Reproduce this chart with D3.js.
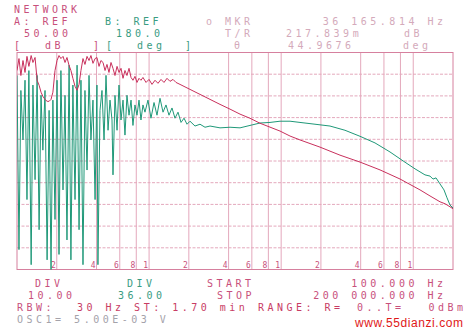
<!DOCTYPE html>
<html>
<head>
<meta charset="utf-8">
<script src="https://cdn.jsdelivr.net/npm/d3@7"></script>
<style>
  body { margin: 0; background: #fff; }
  svg { display: block; }
  .mono { font-family: "DejaVu Sans Mono", monospace; font-size: 10px; letter-spacing: 3.5px; }
</style>
</head>
<body>
<div id="chart"></div>
<script>
// Trace A: magnitude (dB)
const freqA = [100, 103.5, 107, 111, 115, 119, 123, 128, 132, 137, 142, 147, 152, 157, 163, 169, 175, 181, 187, 194,
  201, 208, 215, 223, 231, 239, 248, 256, 265, 275, 285, 295, 305, 316, 327, 339, 351, 363, 376, 390,
  403, 418, 432, 448, 464, 480, 497, 515, 533, 552, 572, 592, 613, 635, 657, 680, 705, 730, 755, 782,
  810, 839, 868, 899, 948, 999, 1052, 1109, 1168, 1231, 1297, 1367, 1440, 1518, 1599, 1715, 2041, 2430, 2893, 3444,
  4101, 4881, 5808, 6916, 8233, 9800, 11670, 13890, 19680, 27890, 39530, 56020, 79390, 112500, 133900, 159400, 174000, 189800, 200000];
const magA = [41.7, 47.2, 39.4, 46.3, 40.8, 48.2, 43.6, 48.6, 45.4, 47.7, 37.2, 34.9, 31.7, 29.8, 28.4, 27.5, 27.5, 28.4, 31.7, 41.7,
  46.3, 48.6, 47.2, 48.2, 45.4, 47.7, 44.0, 41.7, 38.1, 34.4, 32.6, 35.3, 41.7, 47.2, 44.5, 48.2, 46.3, 48.6, 45.0, 47.2,
  47.7, 43.6, 46.3, 45.4, 41.7, 44.5, 40.8, 45.4, 42.7, 39.4, 43.6, 40.8, 42.7, 38.1, 41.7, 39.4, 42.7, 38.5, 37.2, 39.0,
  36.2, 38.1, 37.2, 38.5, 36.2, 37.6, 35.3, 37.2, 35.8, 37.6, 36.2, 38.1, 36.7, 37.6, 36.2, 35.3, 33.0, 30.7, 28.4, 26.1,
  23.9, 21.6, 19.7, 17.4, 15.6, 13.8, 11.5, 9.7, 6.4, 2.7, -0.5, -4.1, -8.3, -13.3, -16.1, -18.8, -19.7, -21.1, -22.0];

// Trace B: phase (deg)
const freqB = [100, 103.5, 107, 111, 115, 119, 123, 128, 132, 137, 142, 147, 152, 157, 163, 169, 175, 181, 187, 194,
  201, 208, 215, 223, 231, 239, 248, 256, 265, 275, 285, 295, 305, 316, 327, 339, 351, 363, 376, 390,
  403, 410, 425, 440, 456, 472, 489, 506, 524, 533, 552, 572, 592, 613, 635, 657, 680, 705, 730, 755,
  782, 810, 839, 868, 899, 931, 981, 1034, 1090, 1148, 1210, 1275, 1343, 1415, 1491, 1571, 1656, 1745, 1839, 1937,
  2041, 2227, 2430, 2651, 2893, 3444, 4101, 4881, 5808, 6916, 8233, 9800, 11670, 13890, 18040, 23430, 30420, 39530, 51340, 66680,
  86620, 103100, 122700, 133900, 141100, 148700, 159400, 171000, 180100, 189800, 200000];
const phaseB = [142, -147, 117, 35, 134, -64, 150, -172, 126, -31, 142, -114, 109, 18, 117, -164, 84, -180, 101, -97,
  134, -155, 150, -48, 109, -131, 159, -164, 126, -64, 159, -114, 134, -172, 117, -15, 142, 35, 101, -64,
  126, -172, 84, 117, 35, 142, 51, 101, 68, -23, 109, 51, 126, 68, 101, 43, 109, 76, 101, 59,
  93, 76, 101, 68, 93, 81, 101, 71, 97, 76, 104, 81, 93, 76, 88, 71, 81, 64, 71, 61,
  66, 58, 61, 56, 58, 55, 56, 55, 59, 63, 64, 66, 66, 64, 61, 58, 51, 41, 30, 15,
  -2, -13, -23, -25, -30, -28, -38, -48, -61, -73, -78];

// Log grid positions and their labels
const gridFreqs = [200, 400, 600, 800, 1000, 2000, 4000, 6000, 8000, 10000, 20000, 40000, 60000, 80000, 100000];
const gridLabels = ["2", "4", "6", "8", "1", "2", "4", "6", "8", "1", "2", "4", "6", "8", "1"];

const width = 469, height = 333;
const plot = { left: 17, right: 453, top: 52.5, bottom: 269.5 };

const colA = "#c8305c", colB = "#1f9878", colGrid = "#e4a8bc", colBorder = "#d6809e";
const colPink = "#c8507c", colGreen = "#3a9c82", colLight = "#d4aabb", colGray = "#a4a2aa";

const svg = d3.select("#chart").append("svg")
  .attr("width", width)
  .attr("height", height);

const x = d3.scaleLog().domain([100, 200000]).range([plot.left, plot.right]);
const yA = d3.scaleLinear().domain([-50, 50]).range([plot.bottom, plot.top]);
const yB = d3.scaleLinear().domain([-180, 180]).range([plot.bottom, plot.top]);

svg.append("clipPath").attr("id", "clip")
  .append("rect")
  .attr("x", plot.left).attr("y", plot.top - 1)
  .attr("width", plot.right - plot.left).attr("height", plot.bottom - plot.top + 2);

// grid
svg.append("g")
  .selectAll("line")
  .data(yA.ticks(10).filter(d => d > -50 && d < 50))
  .join("line")
  .attr("x1", plot.left).attr("x2", plot.right)
  .attr("y1", d => yA(d)).attr("y2", d => yA(d))
  .attr("stroke", colGrid)
  .attr("stroke-dasharray", "3,1.5");

svg.append("g")
  .selectAll("line")
  .data(gridFreqs)
  .join("line")
  .attr("x1", d => x(d)).attr("x2", d => x(d))
  .attr("y1", plot.top).attr("y2", plot.bottom)
  .attr("stroke", colGrid);

svg.append("rect")
  .attr("x", plot.left).attr("y", plot.top)
  .attr("width", plot.right - plot.left).attr("height", plot.bottom - plot.top)
  .attr("fill", "none")
  .attr("stroke", colBorder);

svg.append("g")
  .selectAll("text")
  .data(gridFreqs)
  .join("text")
  .attr("x", d => x(d) - 1)
  .attr("y", plot.bottom - 2)
  .attr("text-anchor", "end")
  .attr("fill", colPink)
  .style("font-family", "DejaVu Sans Mono, monospace")
  .style("font-size", "8px")
  .text((d, i) => gridLabels[i]);

// traces
const traceB = freqB.map((f, i) => ({ f, v: phaseB[i] }));
const traceA = freqA.map((f, i) => ({ f, v: magA[i] }));

svg.append("path")
  .datum(traceB)
  .attr("clip-path", "url(#clip)")
  .attr("fill", "none")
  .attr("stroke", colB)
  .attr("stroke-width", 1)
  .attr("d", d3.line().x(d => x(d.f)).y(d => yB(d.v)));

svg.append("path")
  .datum(traceA)
  .attr("clip-path", "url(#clip)")
  .attr("fill", "none")
  .attr("stroke", colA)
  .attr("stroke-width", 1)
  .attr("d", d3.line().x(d => x(d.f)).y(d => yA(d.v)));

// printout text
function label(px, py, str, color, anchor) {
  svg.append("text")
    .attr("class", "mono")
    .attr("x", anchor === "end" ? px + 3.5 : px)
    .attr("y", py)
    .attr("text-anchor", anchor || "start")
    .attr("fill", color)
    .text(str);
}

label(14, 13, "NETWORK", colPink);
label(14, 25, "A: REF", colPink);
label(105, 25, "B: REF", colGreen);
label(206, 25, "o", colLight);
label(225, 25, "MKR", colLight);
label(443, 25, "36 165.814 Hz", colLight, "end");
label(24, 37, "50.00", colPink);
label(116, 37, "180.0", colGreen);
label(225, 37, "T/R", colLight);
label(286, 37, "217.839m", colLight);
label(404, 37, "dB", colLight);
label(14, 49, "[", colPink);
label(45, 49, "dB", colPink);
label(93, 49, "]", colPink);
label(106, 49, "[", colGreen);
label(137, 49, "deg", colGreen);
label(185, 49, "]", colGreen);
label(234, 49, "θ", colLight);
label(288, 49, "44.9676", colLight);
label(403, 49, "deg", colLight);

label(35, 287, "DIV", colPink);
label(127, 287, "DIV", colGreen);
label(207, 287, "START", colPink);
label(443, 287, "100.000 Hz", colPink, "end");
label(28, 299, "10.00", colPink);
label(118, 299, "36.00", colGreen);
label(217, 299, "STOP", colPink);
label(443, 299, "200 000.000 Hz", colPink, "end");
label(17, 311, "RBW:", colPink);
label(77, 311, "30 Hz ST: 1.70 min RANGE: R=", "#c83c64");
label(357, 311, "0..T=", colPink);
label(463, 311, "0dBm", colPink, "end");
label(17, 323, "OSC1= 5.00E-03 V", colGray);

svg.append("text")
  .attr("x", 355)
  .attr("y", 327)
  .attr("fill", "#e01818")
  .attr("textLength", 108)
  .style("font-family", "Liberation Sans, Arial, sans-serif")
  .style("font-size", "12px")
  .text("www.55dianzi.com");
</script>
</body>
</html>
